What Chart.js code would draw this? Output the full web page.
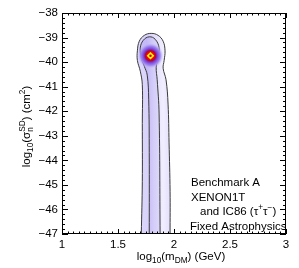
<!DOCTYPE html>
<html>
<head>
<meta charset="utf-8">
<script src="https://cdn.jsdelivr.net/npm/chart.js@4.4.0/dist/chart.umd.min.js"></script>
<style>
  html, body { margin: 0; padding: 0; background: #ffffff; }
  canvas { display: block; }
</style>
</head>
<body>
<canvas id="grafico" width="299" height="268"></canvas>
<script>
// Ejes
const xTicks = [1, 1.5, 2, 2.5, 3];
const yTicks = [-47, -46, -45, -44, -43, -42, -41, -40, -39, -38];

// Contorno exterior (2 sigma)
const outerX = [1.708, 1.717, 1.717, 1.717, 1.699, 1.673, 1.673, 1.690, 1.735, 1.796, 1.858, 1.903, 1.920, 1.912, 1.903, 1.929, 1.947, 1.956, 1.965, 1.965];
const outerY = [-47, -44.87, -42.5, -40.92, -40.37, -39.93, -39.54, -39.15, -38.91, -38.83, -38.91, -39.15, -39.54, -39.93, -40.25, -40.72, -41.71, -43.29, -45.26, -47];

// Contorno interior (1 sigma)
const innerX = [1.779, 1.779, 1.774, 1.761, 1.735, 1.708, 1.699, 1.726, 1.779, 1.832, 1.867, 1.858, 1.841, 1.850, 1.867, 1.876];
const innerY = [-47, -43.69, -41.51, -40.53, -40.17, -39.82, -39.42, -39.11, -38.97, -39.07, -39.42, -39.82, -40.21, -40.72, -42.11, -47];

// Mejor ajuste
const bestX = [1.79];
const bestY = [-39.74];

// Texto de la leyenda
const leyenda = [
  { x: 191, y: 186, partes: [['Benchmark A', 'n']] },
  { x: 191, y: 200.5, partes: [['XENON1T', 'n']] },
  { x: 200, y: 215, partes: [['and IC86 (τ', 'n'], ['+', 'sup'], ['τ', 'n'], ['\u2212', 'sup'], [')', 'n']] },
  { x: 190, y: 229.5, partes: [['Fixed Astrophysics', 'n']] }
];

const FUENTE = '"Liberation Sans", Arial, sans-serif';
const puntos = (xs, ys) => xs.map((x, i) => ({ x: x, y: ys[i] }));
const menos = v => String(v).replace('-', '\u2212');

// Escribe texto con subindices / superindices, devuelve el ancho
function textoRico(ctx, partes, x, y, base, soloMedir) {
  let cx = x;
  partes.forEach(([t, tipo]) => {
    if (tipo === 'supsub') {
      ctx.font = `${base * 0.72}px ${FUENTE}`;
      const w1 = ctx.measureText(t[0]).width;
      const w2 = ctx.measureText(t[1]).width;
      if (!soloMedir) {
        ctx.fillText(t[0], cx, y - base * 0.42);
        ctx.fillText(t[1], cx, y + base * 0.3);
      }
      cx += Math.max(w1, w2);
      return;
    }
    const size = tipo === 'n' ? base : base * 0.72;
    ctx.font = `${size}px ${FUENTE}`;
    const dy = tipo === 'sub' ? base * 0.3 : tipo === 'sup' ? -base * 0.42 : 0;
    if (!soloMedir) ctx.fillText(t, cx, y + dy);
    cx += ctx.measureText(t).width;
  });
  return cx - x;
}

const marcoPlugin = {
  id: 'marco',
  afterDatasetsDraw(chart) {
    const ctx = chart.ctx;
    const a = chart.chartArea;
    const sx = chart.scales.x;
    const sy = chart.scales.y;
    ctx.save();
    ctx.strokeStyle = '#000000';
    ctx.lineWidth = 1;
    ctx.strokeRect(a.left + 0.5, a.top + 0.5, a.right - a.left - 1, a.bottom - a.top - 1);
    ctx.beginPath();
    // marcas en x (menores cada 0.05)
    for (let k = 0; k <= 40; k++) {
      const v = 1 + k * 0.05;
      const px = Math.round(sx.getPixelForValue(v)) + 0.5;
      const largo = (k % 10 === 0) ? 5 : 2.5;
      ctx.moveTo(px, a.bottom); ctx.lineTo(px, a.bottom - largo);
      ctx.moveTo(px, a.top); ctx.lineTo(px, a.top + largo);
    }
    // marcas en y (menores cada 0.2)
    for (let k = 0; k <= 45; k++) {
      const v = -47 + k * 0.2;
      const py = Math.round(sy.getPixelForValue(v)) + 0.5;
      const largo = (k % 5 === 0) ? 6 : 3;
      ctx.moveTo(a.left, py); ctx.lineTo(a.left + largo, py);
      ctx.moveTo(a.right, py); ctx.lineTo(a.right - largo, py);
    }
    ctx.stroke();
    ctx.restore();
  },
  afterDraw(chart) {
    const ctx = chart.ctx;
    const a = chart.chartArea;
    ctx.save();
    ctx.fillStyle = '#000000';
    ctx.textBaseline = 'alphabetic';
    ctx.textAlign = 'left';

    // titulo eje x
    const tx = [['log', 'n'], ['10', 'sub'], ['(m', 'n'], ['DM', 'sub'], [') (GeV)', 'n']];
    const wx = textoRico(ctx, tx, 0, 0, 11.5, true);
    textoRico(ctx, tx, (a.left + a.right) / 2 + 7 - wx / 2, 260, 11.5, false);

    // titulo eje y (girado)
    const ty = [['log', 'n'], ['10', 'sub'], ['(σ', 'n'], [['SD', 'n'], 'supsub'], [') (cm', 'n'], ['2', 'sup'], [')', 'n']];
    const wy = textoRico(ctx, ty, 0, 0, 11.5, true);
    ctx.translate(30, (a.top + a.bottom) / 2 + 3);
    ctx.rotate(-Math.PI / 2);
    textoRico(ctx, ty, -wy / 2, 0, 11.5, false);
    ctx.setTransform(1, 0, 0, 1, 0, 0);

    // leyenda
    leyenda.forEach(l => textoRico(ctx, l.partes, l.x, l.y, 11.5, false));
    ctx.restore();
  }
};

function gradienteMancha(context) {
  const chart = context.chart;
  const sx = chart.scales.x;
  const sy = chart.scales.y;
  if (!sx || !sy) return '#9a80ee';
  const cx = sx.getPixelForValue(bestX[0]);
  const cy = sy.getPixelForValue(bestY[0]);
  if (!isFinite(cx) || !isFinite(cy)) return '#9a80ee';
  const g = chart.ctx.createRadialGradient(cx, cy, 0, cx, cy, 13);
  g.addColorStop(0, '#ff2000');
  g.addColorStop(0.28, '#ff0000');
  g.addColorStop(0.4, '#a00a4a');
  g.addColorStop(0.52, '#7a40d8');
  g.addColorStop(0.75, '#a08af0');
  g.addColorStop(1, 'rgba(205,198,246,0)');
  return g;
}

// degradado horizontal para las bandas
function degradadoBanda(colores, x0, x1) {
  return function (context) {
    const chart = context.chart;
    const sx = chart.scales.x;
    if (!sx) return colores[0];
    const p0 = sx.getPixelForValue(x0);
    const p1 = sx.getPixelForValue(x1);
    if (!isFinite(p0) || !isFinite(p1)) return colores[0];
    const g = chart.ctx.createLinearGradient(p0, 0, p1, 0);
    colores.forEach((c, i) => g.addColorStop(i / (colores.length - 1), c));
    return g;
  };
}

new Chart(document.getElementById('grafico').getContext('2d'), {
  type: 'scatter',
  data: {
    datasets: [
      {
        label: 'contorno exterior',
        data: puntos(outerX, outerY),
        showLine: true,
        fill: 'shape',
        backgroundColor: degradadoBanda(['#dcd7fb', '#d8d2fa', '#e4e0fb', '#f0eefe', '#e2defb'], 1.70, 1.97),
        borderColor: '#3a3a3a',
        borderWidth: 1,
        pointRadius: 0,
        tension: 0.4,
        order: 5
      },
      {
        label: 'contorno interior',
        data: puntos(innerX, innerY),
        showLine: true,
        fill: 'shape',
        backgroundColor: degradadoBanda(['#c6bef6', '#c2b9f6', '#d2ccf8', '#ddd8fa'], 1.70, 1.87),
        borderColor: '#3a3a3a',
        borderWidth: 1,
        pointRadius: 0,
        tension: 0.4,
        order: 4
      },
      {
        label: 'mancha',
        data: puntos(bestX, bestY),
        pointRadius: 13,
        pointBackgroundColor: gradienteMancha,
        pointBorderWidth: 0,
        order: 3
      },
      {
        label: 'mejor ajuste',
        data: puntos(bestX, bestY),
        pointStyle: 'rectRot',
        pointRadius: 3.8,
        pointBackgroundColor: '#ffff00',
        pointBorderWidth: 0,
        order: 2
      },
      {
        label: 'centro',
        data: puntos(bestX, bestY),
        pointRadius: 1.3,
        pointBackgroundColor: '#d00000',
        pointBorderWidth: 0,
        order: 1
      }
    ]
  },
  options: {
    responsive: false,
    animation: false,
    layout: { padding: { top: 6, right: 11, left: 0, bottom: 0 } },
    plugins: {
      legend: { display: false },
      tooltip: { enabled: false }
    },
    scales: {
      x: {
        type: 'linear',
        min: 1,
        max: 3,
        afterFit: s => { s.height = 34; },
        afterBuildTicks: s => { s.ticks = xTicks.map(v => ({ value: v })); },
        grid: { display: false, drawTicks: false },
        border: { display: false },
        ticks: {
          padding: 5,
          color: '#000000',
          font: { family: FUENTE, size: 11.5, lineHeight: 1 },
          maxRotation: 0,
          autoSkip: false,
          callback: v => String(v)
        }
      },
      y: {
        type: 'linear',
        min: -47,
        max: -38,
        afterFit: s => { s.width = 62; },
        afterBuildTicks: s => { s.ticks = yTicks.map(v => ({ value: v })); },
        grid: { display: false, drawTicks: false },
        border: { display: false },
        ticks: {
          padding: 4,
          color: '#000000',
          font: { family: FUENTE, size: 11.5, lineHeight: 1 },
          autoSkip: false,
          callback: v => menos(v)
        }
      }
    }
  },
  plugins: [marcoPlugin]
});
</script>
</body>
</html>
